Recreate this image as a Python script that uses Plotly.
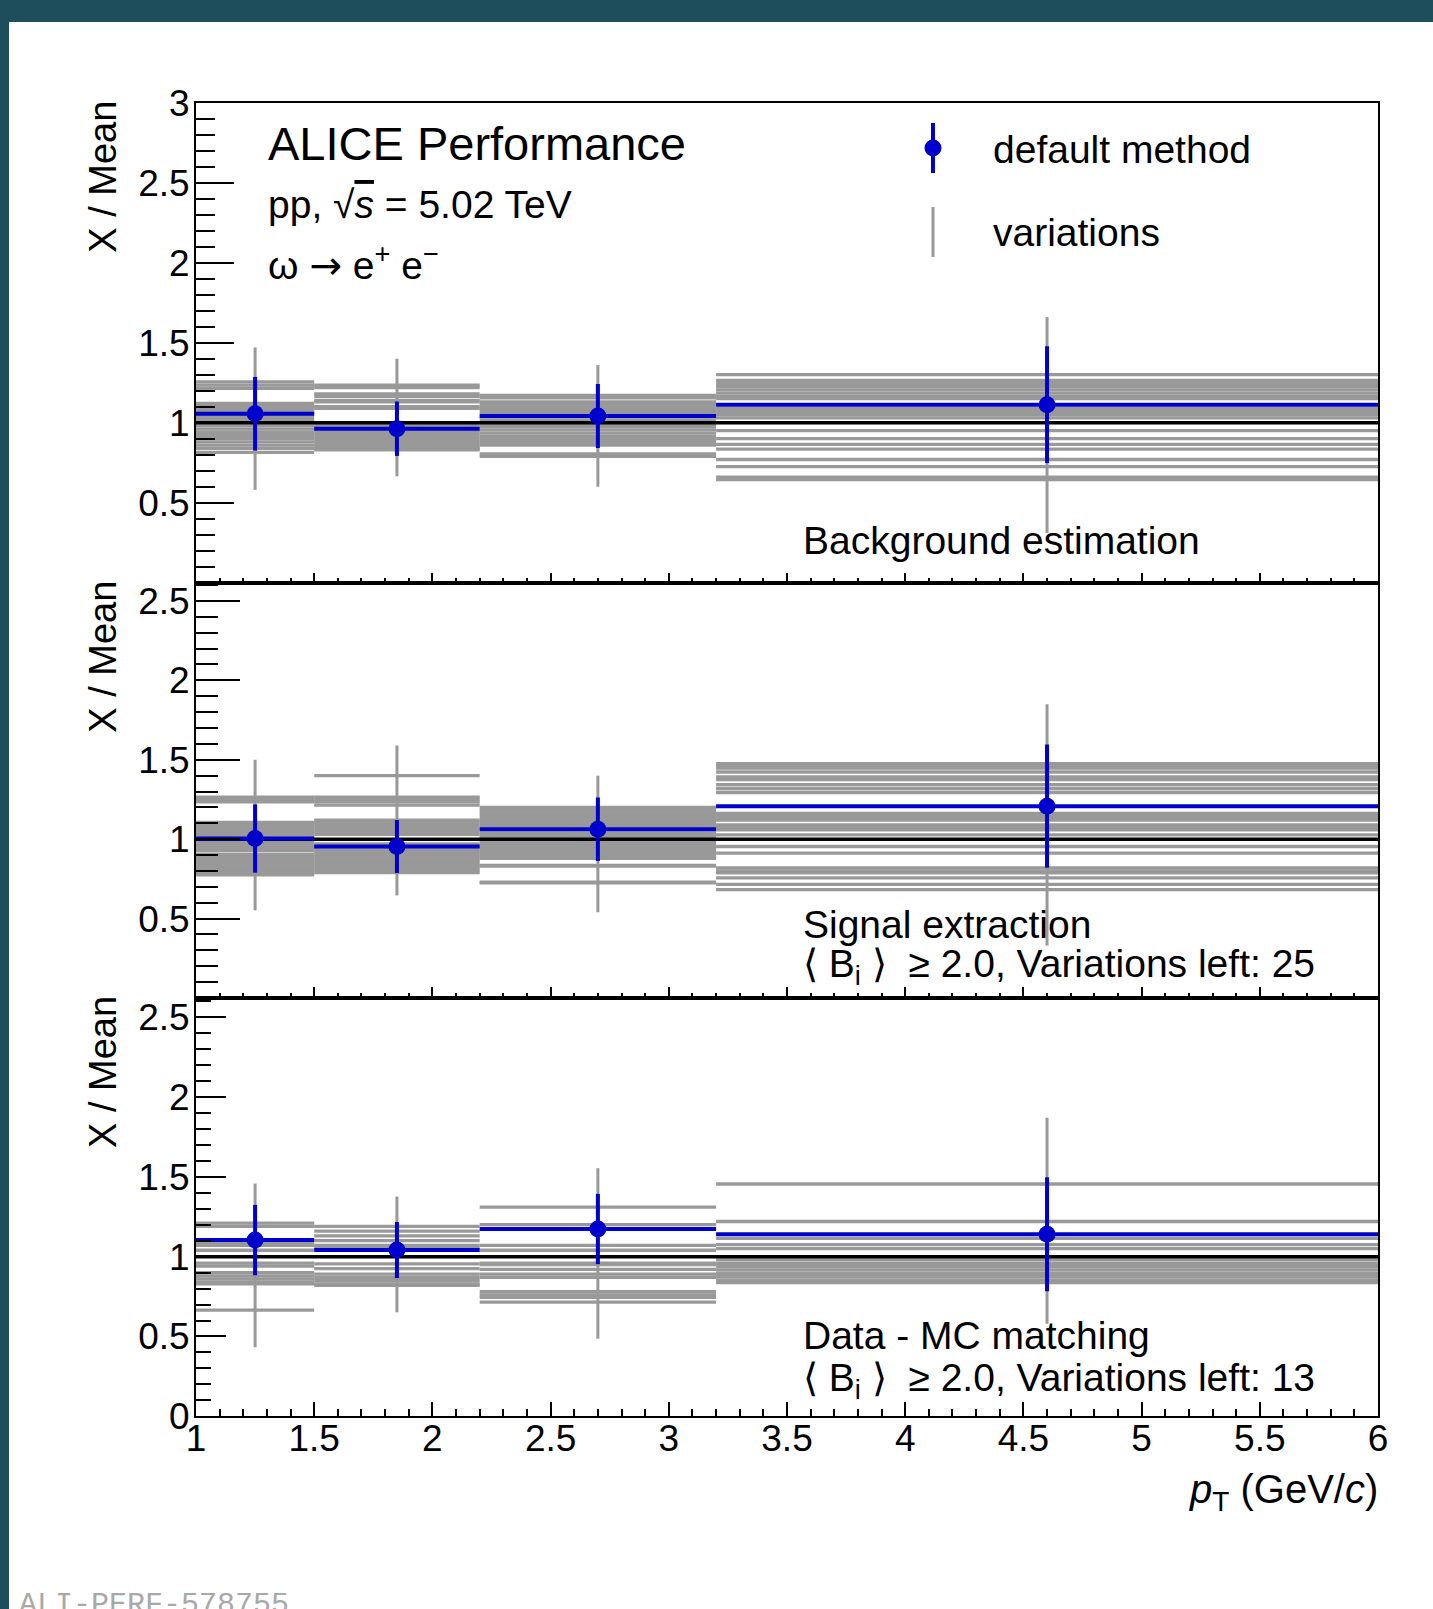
import plotly.graph_objects as go

W, H = 1433, 1609

# pT binning (GeV/c)
bin_edges = [1.0, 1.5, 2.2, 3.2, 6.0]

# ---- Background estimation ----
bg_default = [1.056, 0.9625, 1.042, 1.1125]
bg_default_err = [0.23, 0.17, 0.20, 0.365]
bg_var_err_lo = [0.58, 0.665, 0.60, 0.31]
bg_var_err_hi = [1.47, 1.40, 1.36, 1.66]
bg_variations = [
    [1.255, 1.235, 1.215, 1.12, 1.105, 1.09, 1.075, 1.06, 1.04, 1.02,
     1.0, 0.98, 0.96, 0.94, 0.92, 0.90, 0.88, 0.86, 0.84, 0.815],
    [1.235, 1.22, 1.18, 1.165, 1.14, 1.13, 1.10, 1.09, 0.985, 0.97,
     0.955, 0.94, 0.925, 0.91, 0.895, 0.88, 0.865, 0.85, 0.84, 0.83],
    [1.17, 1.155, 1.13, 1.115, 1.10, 1.085, 1.07, 1.055, 1.035, 1.015,
     0.995, 0.975, 0.955, 0.935, 0.915, 0.895, 0.875, 0.86, 0.805, 0.79],
    [1.30, 1.265, 1.245, 1.225, 1.205, 1.185, 1.165, 1.15, 1.09, 1.07,
     1.05, 1.03, 0.95, 0.90, 0.865, 0.835, 0.77, 0.725, 0.66, 0.645],
]

# ---- Signal extraction ----
sig_default = [1.004, 0.954, 1.0625, 1.208]
sig_default_err = [0.215, 0.167, 0.20, 0.3875]
sig_var_err_lo = [0.552, 0.646, 0.54, 0.33]
sig_var_err_hi = [1.50, 1.59, 1.40, 1.85]
sig_variations = [
    [1.265, 1.25, 1.235, 1.105, 1.09, 1.075, 1.06, 1.045, 1.03, 1.015,
     0.99, 0.975, 0.96, 0.945, 0.93, 0.905, 0.89, 0.875, 0.86, 0.845,
     0.83, 0.815, 0.80, 0.785, 0.775],
    [1.40, 1.265, 1.25, 1.235, 1.215, 1.12, 1.105, 1.09, 1.075, 1.06,
     1.045, 1.03, 0.97, 0.955, 0.94, 0.925, 0.91, 0.895, 0.88, 0.865,
     0.85, 0.835, 0.82, 0.805, 0.79],
    [1.20, 1.185, 1.17, 1.155, 1.14, 1.125, 1.11, 1.095, 1.08, 1.04,
     1.025, 1.01, 0.995, 0.98, 0.965, 0.95, 0.935, 0.92, 0.905, 0.89,
     0.88, 0.835, 0.83, 0.73, 0.725],
    [1.475, 1.46, 1.448, 1.423, 1.392, 1.375, 1.344, 1.319, 1.294, 1.1625,
     1.15, 1.135, 1.12, 1.09, 1.075, 1.058, 1.027, 0.954, 0.9125, 0.819,
     0.80, 0.7875, 0.756, 0.715, 0.683],
]

# ---- Data - MC matching ----
mc_default = [1.104, 1.042, 1.173, 1.14]
mc_default_err = [0.22, 0.175, 0.22, 0.357]
mc_var_err_lo = [0.433, 0.652, 0.485, 0.58]
mc_var_err_hi = [1.458, 1.377, 1.554, 1.87]
mc_variations = [
    [1.21, 1.19, 1.09, 1.07, 1.04, 0.96, 0.94, 0.90, 0.88, 0.86, 0.84, 0.83, 0.665],
    [1.19, 1.16, 1.13, 1.10, 1.07, 1.055, 0.955, 0.925, 0.89, 0.87, 0.85, 0.83, 0.82],
    [1.31, 1.20, 1.07, 1.04, 0.96, 0.95, 0.92, 0.89, 0.87, 0.78, 0.76, 0.745, 0.715],
    [1.455, 1.22, 1.115, 1.075, 1.05, 0.98, 0.958, 0.937, 0.917, 0.896, 0.875, 0.854, 0.838],
]

panel_labels = [
    ["Background estimation"],
    ["Signal extraction", "\u27e8 B<sub>i</sub> \u27e9  \u2265 2.0, Variations left: 25"],
    ["Data - MC matching", "\u27e8 B<sub>i</sub> \u27e9  \u2265 2.0, Variations left: 13"],
]
y_ranges = [[0, 3.0], [0, 2.615], [0, 2.62]]
y_tickvals = [[0.5, 1, 1.5, 2, 2.5, 3], [0.5, 1, 1.5, 2, 2.5], [0, 0.5, 1, 1.5, 2, 2.5]]

GRAY = "#999999"
BLUE = "#0000cc"
TEAL = "#1e4d5c"
FONT = "Liberation Sans, Arial, Helvetica, sans-serif"

centers = [(a + b) / 2 for a, b in zip(bin_edges[:-1], bin_edges[1:])]
halfw = [(b - a) / 2 for a, b in zip(bin_edges[:-1], bin_edges[1:])]


def px(x):
    return x / W


def py(y):
    return 1 - y / H


# panel geometry in pixels: (top, bottom)
x_left, x_right = 196, 1378
panels_px = [(102.7, 582.7), (582.7, 998.0), (998.0, 1416.3)]
ytick_len = [(38, 19), (44, 22), (30, 15)]
xtick_len = [(10, 5), (11, 5), (14, 7)]

panels = [
    (bg_default, bg_default_err, bg_var_err_lo, bg_var_err_hi, bg_variations),
    (sig_default, sig_default_err, sig_var_err_lo, sig_var_err_hi, sig_variations),
    (mc_default, mc_default_err, mc_var_err_lo, mc_var_err_hi, mc_variations),
]

fig = go.Figure()
layout = dict(
    width=W, height=H, autosize=False,
    margin=dict(l=0, r=0, t=0, b=0, pad=0, autoexpand=False),
    paper_bgcolor="white", plot_bgcolor="white",
    showlegend=False,
    font=dict(family=FONT, color="black"),
)

annotations = []
shapes = []

for k, (dflt, derr, vlo, vhi, vars_) in enumerate(panels):
    sfx = "" if k == 0 else str(k + 1)
    xa, ya = "x" + sfx, "y" + sfx

    # envelope of the variations' statistical errors (gray verticals)
    vx, vy = [], []
    for c, lo, hi in zip(centers, vlo, vhi):
        vx += [c, c, None]
        vy += [lo, hi, None]
    fig.add_trace(go.Scatter(x=vx, y=vy, mode="lines", xaxis=xa, yaxis=ya,
                             line=dict(color=GRAY, width=3), hoverinfo="skip"))

    # each variation: horizontal bar over its bin
    hx, hy, he = [], [], []
    for i, vals in enumerate(vars_):
        for v in vals:
            hx.append(centers[i])
            hy.append(v)
            he.append(halfw[i])
    fig.add_trace(go.Scatter(
        x=hx, y=hy, mode="markers", xaxis=xa, yaxis=ya,
        marker=dict(size=1, color="rgba(0,0,0,0)"),
        error_x=dict(type="data", array=he, color=GRAY, thickness=3.3, width=0),
    ))

    # unity reference line
    fig.add_trace(go.Scatter(x=[bin_edges[0], bin_edges[-1]], y=[1, 1], mode="lines",
                             xaxis=xa, yaxis=ya, line=dict(color="black", width=3.5)))

    # default method
    fig.add_trace(go.Scatter(
        x=centers, y=dflt, mode="markers", xaxis=xa, yaxis=ya,
        marker=dict(size=17, color=BLUE),
        error_x=dict(type="data", array=halfw, color=BLUE, thickness=4, width=0),
        error_y=dict(type="data", array=derr, color=BLUE, thickness=4, width=0),
    ))

    top, bot = panels_px[k]
    ymaj, ymin = ytick_len[k]
    xmaj, xmin = xtick_len[k]
    layout["xaxis" + sfx] = dict(
        domain=[px(x_left), px(x_right)], range=[bin_edges[0], bin_edges[-1]],
        anchor=ya, showline=True, linecolor="black", linewidth=2, mirror=True,
        ticks="inside", ticklen=xmaj, tickwidth=2, tickcolor="black",
        tick0=0, dtick=0.5, automargin=False,
        minor=dict(ticks="inside", ticklen=xmin, tickwidth=2, tickcolor="black",
                   tick0=0, dtick=0.1),
        showgrid=False, zeroline=False,
        showticklabels=(k == 2),
        tickfont=dict(family=FONT, size=37, color="black"),
        ticklabelstandoff=-12,
    )
    layout["yaxis" + sfx] = dict(
        domain=[py(bot), py(top)], range=y_ranges[k],
        anchor=xa, showline=True, linecolor="black", linewidth=2, mirror=True,
        ticks="inside", ticklen=ymaj, tickwidth=2, tickcolor="black",
        tickmode="array", tickvals=y_tickvals[k], automargin=False,
        minor=dict(ticks="inside", ticklen=ymin, tickwidth=2, tickcolor="black",
                   tickmode="linear", tick0=0, dtick=0.1),
        showgrid=False, zeroline=False,
        tickfont=dict(family=FONT, size=37, color="black"),
        ticklabelstandoff=-3,
    )

    # y-axis title, right-aligned to the top of the panel
    annotations.append(dict(
        text="X / Mean", xref="paper", yref="paper", x=px(103), y=py(top - 4),
        xanchor="center", yanchor="top", textangle=-90, showarrow=False,
        font=dict(family=FONT, size=38, color="black"),
    ))

# per-panel labels
label_y = [[541], [924, 966], [1335.5, 1380.7]]
for k, lines in enumerate(panel_labels):
    for t, yv in zip(lines, label_y[k]):
        annotations.append(dict(
            text=t, xref="paper", yref="paper", x=px(801), y=py(yv),
            xanchor="left", yanchor="middle", showarrow=False,
            font=dict(family=FONT, size=39, color="black"),
        ))

# header texts
annotations += [
    dict(text="ALICE Performance", x=px(266), y=py(144), size=47),
    dict(text="pp, \u221a<span style='text-decoration:overline'><i>s</i></span> = 5.02 TeV",
         x=px(266), y=py(205), size=39),
    dict(text="\u03c9 <span style='font-family:DejaVu Sans'>\u2192</span> "
              "e<sup>+</sup> e<sup>\u2212</sup>", x=px(266), y=py(263), size=39),
]
for a in annotations[-3:]:
    size = a.pop("size")
    a.update(xref="paper", yref="paper", xanchor="left", yanchor="middle",
             showarrow=False, font=dict(family=FONT, size=size, color="black"))

# legend
annotations += [
    dict(text="default method", xref="paper", yref="paper", x=px(991), y=py(149),
         xanchor="left", yanchor="middle", showarrow=False,
         font=dict(family=FONT, size=39, color="black")),
    dict(text="variations", xref="paper", yref="paper", x=px(991), y=py(232),
         xanchor="left", yanchor="middle", showarrow=False,
         font=dict(family=FONT, size=39, color="black")),
]
lx = 933
shapes += [
    dict(type="line", xref="paper", yref="paper", x0=px(lx), x1=px(lx),
         y0=py(123), y1=py(173), line=dict(color=BLUE, width=4)),
    dict(type="circle", xref="paper", yref="paper", x0=px(lx - 8.5), x1=px(lx + 8.5),
         y0=py(156.5), y1=py(139.5), fillcolor=BLUE, line=dict(color=BLUE, width=0)),
    dict(type="line", xref="paper", yref="paper", x0=px(lx), x1=px(lx),
         y0=py(207), y1=py(257), line=dict(color=GRAY, width=3)),
]

# x-axis title
annotations.append(dict(
    text="<i>p</i><sub>T</sub> (GeV/<i>c</i>)", xref="paper", yref="paper",
    x=px(1380), y=py(1492), xanchor="right", yanchor="middle", showarrow=False,
    font=dict(family=FONT, size=40, color="black"),
))

# figure id tag
annotations.append(dict(
    text="ALI-PERF-578755", xref="paper", yref="paper", x=px(17), y=py(1586),
    xanchor="left", yanchor="top", showarrow=False,
    font=dict(family="Liberation Mono, monospace", size=30, color="#a8a8a8"),
))

# page frame
shapes += [
    dict(type="rect", xref="paper", yref="paper", x0=0, x1=1, y0=py(22), y1=1,
         fillcolor=TEAL, line=dict(width=0), layer="above"),
    dict(type="rect", xref="paper", yref="paper", x0=0, x1=px(9), y0=0, y1=1,
         fillcolor=TEAL, line=dict(width=0), layer="above"),
]

layout["annotations"] = annotations
layout["shapes"] = shapes
fig.update_layout(**layout)
fig.write_html(
    "out.html",
    post_script="document.body.style.margin='0';document.body.style.overflow='hidden';",
)
